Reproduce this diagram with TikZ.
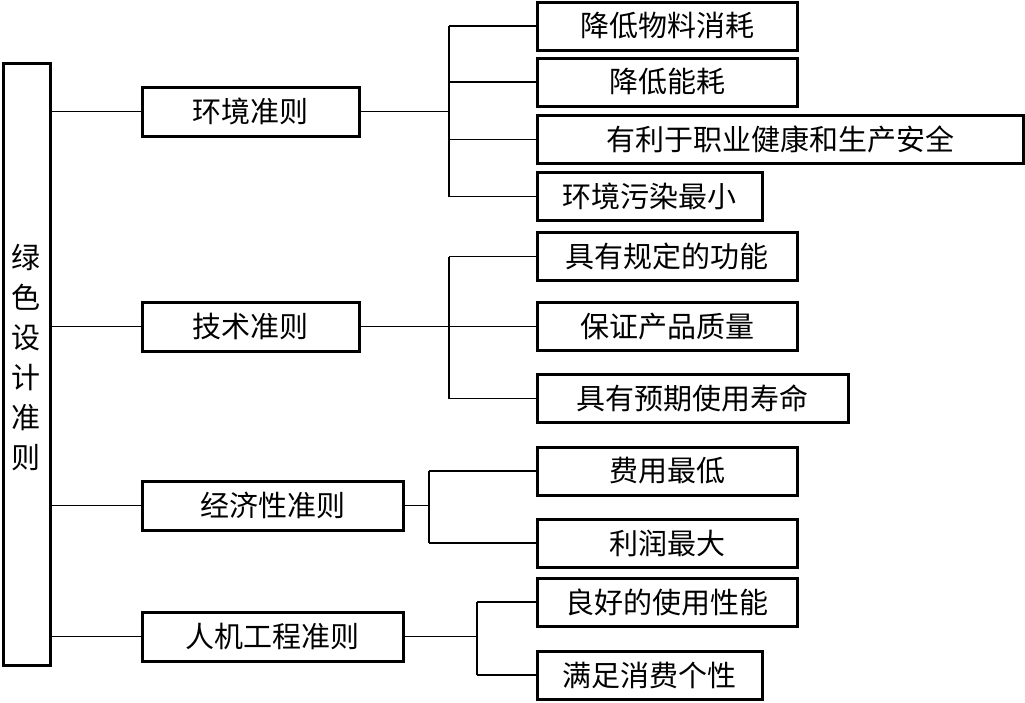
\documentclass[tikz,border=0pt]{standalone}
\usepackage{fontspec}
\newfontfamily\cjk{Noto Sans CJK SC}
\usetikzlibrary{positioning, calc}

\begin{document}
\begin{tikzpicture}[
  x=1pt, y=-1pt,
  rootbox/.style={draw, line width=3pt, minimum width=47pt, minimum height=602pt,
                  inner sep=0pt},
  roottext/.style={inner sep=0pt, align=center, font=\cjk\fontsize{29}{40}\selectfont},
  critbox/.style={draw, line width=3pt, minimum height=49pt, inner sep=0pt,
                  font=\cjk\fontsize{29}{34}\selectfont},
  leafbox/.style={draw, line width=3pt, minimum height=48pt, inner sep=0pt,
                  font=\cjk\fontsize{29}{34}\selectfont},
  link/.style={line width=1.1pt},
]
\useasboundingbox (0,0) rectangle (1025,702);

% Nodes
\node[rootbox] (root) at (26.5,364) {};
\node[roottext] (roottitle) at ($(root.center)+(0,-7)$) {绿\\色\\设\\计\\准\\则};

\node[critbox, minimum width=217pt] (env) at (250.5,111.5) {环境准则};
\node[critbox, minimum width=217pt] (tech) at (250.5,326.5) {技术准则};
\node[critbox, minimum width=261pt] (econ) at (272.5,505.5) {经济性准则};
\node[critbox, minimum width=261pt] (ergo) at (272.5,636.5) {人机工程准则};

\node[leafbox, minimum width=260pt] (env1) at (667,26) {降低物料消耗};
\node[leafbox, minimum width=260pt] (env2) at (667,82) {降低能耗};
\node[leafbox, minimum width=486pt] (env3) at (780,139.5) {有利于职业健康和生产安全};
\node[leafbox, minimum width=225pt] (env4) at (649.5,196.5) {环境污染最小};

\node[leafbox, minimum width=260pt] (tech1) at (667,256.5) {具有规定的功能};
\node[leafbox, minimum width=260pt] (tech2) at (667,326.5) {保证产品质量};
\node[leafbox, minimum width=311pt] (tech3) at (692.5,398.5) {具有预期使用寿命};

\node[leafbox, minimum width=260pt] (econ1) at (667,471) {费用最低};
\node[leafbox, minimum width=260pt] (econ2) at (667,543) {利润最大};

\node[leafbox, minimum width=260pt] (ergo1) at (667,602) {良好的使用性能};
\node[leafbox, minimum width=225pt] (ergo2) at (649.5,675) {满足消费个性};

% Branch points
\coordinate (busenv) at (449,111.5);
\coordinate (bustech) at (449,326.5);
\coordinate (busecon) at (429,505.5);
\coordinate (busergo) at (477,636.5);

% Links - root to criteria
\foreach \c in {env,tech,econ,ergo}
  \draw[link] (root.east |- \c.west) -- (\c.west);

% Links - criteria to leaves
\draw[link] (env.east) -- (busenv);
\draw[link] (busenv |- env1.west) -- (busenv |- env4.west);
\foreach \n in {env1,env2,env3,env4}
  \draw[link] (busenv |- \n.west) -- (\n.west);

\draw[link] (tech.east) -- (bustech);
\draw[link] (bustech |- tech1.west) -- (bustech |- tech3.west);
\foreach \n in {tech1,tech2,tech3}
  \draw[link] (bustech |- \n.west) -- (\n.west);

\draw[link] (econ.east) -- (busecon);
\draw[link] (busecon |- econ1.west) -- (busecon |- econ2.west);
\foreach \n in {econ1,econ2}
  \draw[link] (busecon |- \n.west) -- (\n.west);

\draw[link] (ergo.east) -- (busergo);
\draw[link] (busergo |- ergo1.west) -- (busergo |- ergo2.west);
\foreach \n in {ergo1,ergo2}
  \draw[link] (busergo |- \n.west) -- (\n.west);

\end{tikzpicture}
\end{document}
